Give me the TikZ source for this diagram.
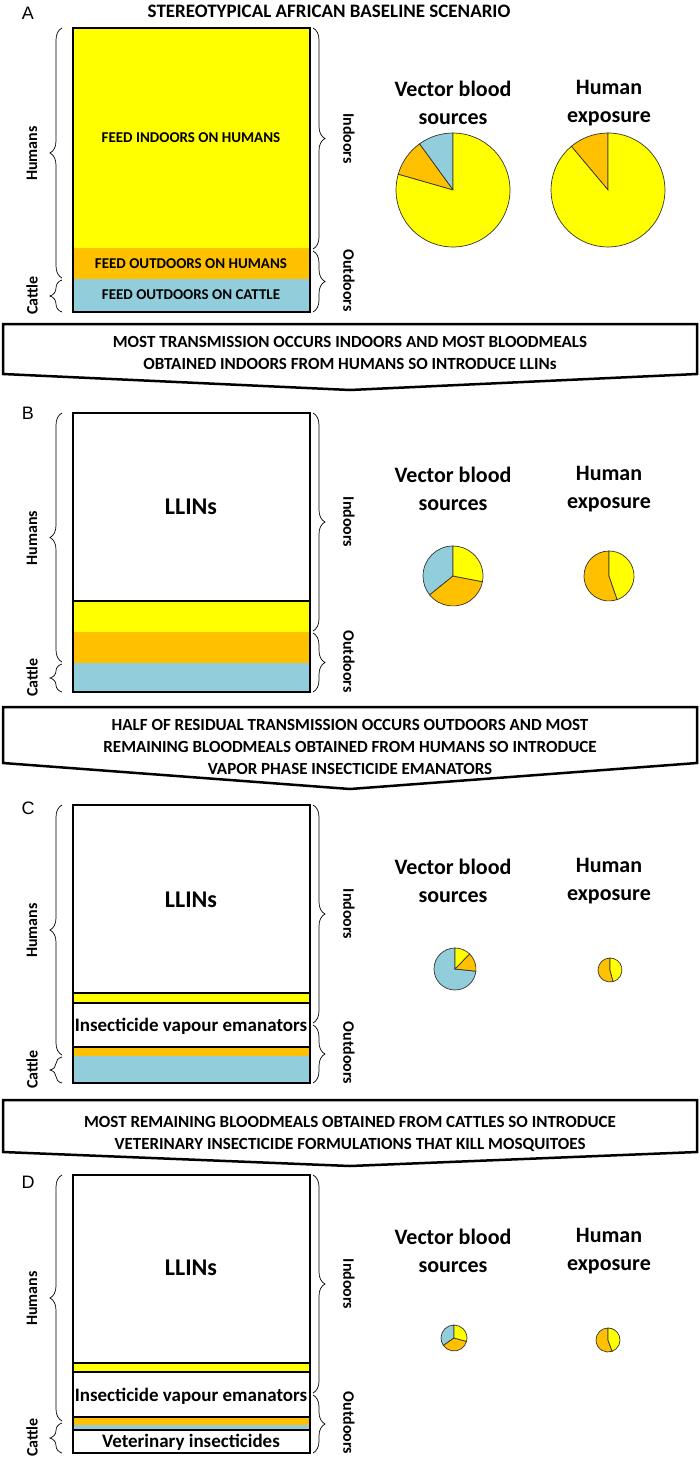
\documentclass[tikz,border=0pt]{standalone}
\usepackage{fontspec}
\setmainfont{Carlito}
\newfontfamily\panelfont{Liberation Sans}
\usetikzlibrary{decorations.pathreplacing}

\definecolor{humyellow}{HTML}{FFFF00}
\definecolor{humorange}{HTML}{FFC000}
\definecolor{catblue}{HTML}{92CDDC}

\tikzset{
  boxline/.style={line width=2.5bp},
  sepline/.style={line width=2.2bp},
  sidebrace/.style={decorate,decoration={brace,amplitude=12bp},line width=0.7bp},
  sidetext/.style={font=\fontsize{16bp}{18bp}\selectfont\bfseries},
  feedtext/.style={font=\fontsize{15bp}{17bp}\selectfont\bfseries},
  usetext/.style={font=\fontsize{19bp}{21bp}\selectfont\bfseries},
  nettext/.style={font=\fontsize{24bp}{26bp}\selectfont\bfseries},
  pietitle/.style={font=\fontsize{22bp}{27.5bp}\selectfont\bfseries,align=center},
  steptext/.style={font=\fontsize{17bp}{22bp}\selectfont\bfseries,align=center},
  panel/.style={font=\fontsize{18bp}{20bp}\selectfont\panelfont},
  slice/.style={draw=black!80,line width=0.7bp},
}

\begin{document}
\begin{tikzpicture}[x=1bp,y=-1bp]
        \fill[white] (0,0) rectangle (700,1461);
        \useasboundingbox (0,0) rectangle (700,1461);
        % Panel letters, title
        \node[panel] (labA) at (28,13) {A};
        \node[panel] (labB) at (28,413) {B};
        \node[panel] (labC) at (28,808) {C};
        \node[panel] (labD) at (28,1182) {D};
        \node[font=\fontsize{19bp}{21bp}\selectfont\bfseries] (title) at (329,11)
        {STEREOTYPICAL AFRICAN BASELINE SCENARIO};
        % Panel A bar
        \fill[humyellow] (73,28) rectangle (310,248);
        \fill[humorange] (73,248) rectangle (310,279);
        \fill[catblue] (73,279) rectangle (310,312);
        \draw[boxline] (73,28) rectangle (310,312);
        \node[feedtext] (inhumA) at (191,138) {FEED INDOORS ON HUMANS};
        \node[feedtext] (outhumA) at (191,264) {FEED OUTDOORS ON HUMANS};
        \node[feedtext] (outcatA) at (191,295) {FEED OUTDOORS ON CATTLE};
        % Panel B bar
        \fill[humyellow] (73,601) rectangle (310,632);
        \fill[humorange] (73,632) rectangle (310,663);
        \fill[catblue] (73,663) rectangle (310,692);
        \draw[sepline] (73,601) -- (310,601);
        \draw[boxline] (73,413) rectangle (310,692);
        \node[nettext] (netB) at (191,507) {LLINs};
        % Panel C bar
        \fill[humyellow] (73,993) rectangle (310,1003);
        \fill[humorange] (73,1047) rectangle (310,1056);
        \fill[catblue] (73,1056) rectangle (310,1083);
        \draw[sepline] (73,993) -- (310,993) (73,1003) -- (310,1003) (73,1047) -- (310,1047);
        \draw[boxline] (73,805) rectangle (310,1083);
        \node[nettext] (netC) at (191,900) {LLINs};
        \node[usetext] (vapC) at (191,1026) {Insecticide vapour emanators};
        % Panel D bar
        \fill[humyellow] (73,1363) rectangle (310,1372);
        \fill[humorange] (73,1417) rectangle (310,1425);
        \fill[catblue] (73,1425) rectangle (310,1430);
        \draw[sepline] (73,1363) -- (310,1363) (73,1372) -- (310,1372)
        (73,1417) -- (310,1417) (73,1430) -- (310,1430);
        \draw[boxline] (73,1175) rectangle (310,1453);
        \node[nettext] (netD) at (191,1268) {LLINs};
        \node[usetext] (vapD) at (191,1396) {Insecticide vapour emanators};
        \node[usetext] (vetD) at (191,1442) {Veterinary insecticides};
        % Braces and side labels
        \foreach \n/\t/\hc/\io/\b in {A/28/279/249/312, B/413/663/631/692,
                C/805/1056/1023/1083, D/1175/1422/1393/1453} {
          \draw[sidebrace] (62,\hc-1) -- (62,\t);
          \draw[sidebrace] (62,\b) -- (62,\hc+1);
          \draw[sidebrace] (313,\t) -- (313,\io);
          \draw[sidebrace] (313,\io+2) -- (313,\b);
          \node[sidetext,rotate=90] (hum\n) at (32,{(\t+\hc)/2}) {Humans};
          \node[sidetext,rotate=90] (cat\n) at (32,{(\hc+\b)/2}) {Cattle};
          \node[sidetext,rotate=-90] (in\n) at (349,{(\t+\io)/2}) {Indoors};
          \node[sidetext,rotate=-90] (out\n) at (349,{(\io+\b)/2}) {Outdoors};
        }
        % Pie titles
        \foreach \n/\y in {A/103, B/489, C/881, D/1251} {
          \node[pietitle] (vec\n) at (453,\y) {Vector blood\\sources};
          \node[pietitle] (exp\n) at (609,\y) {Human\\exposure};
        }
        % Pies
        \coordinate (pieA1) at (453,190);
        \coordinate (pieA2) at (608,190);
        \coordinate (pieB1) at (453,576);
        \coordinate (pieB2) at (609,576);
        \coordinate (pieC1) at (455,969);
        \coordinate (pieC2) at (610,970);
        \coordinate (pieD1) at (454,1338);
        \coordinate (pieD2) at (608,1340);
        \foreach \p/\r/\a/\e/\c in {
                A1/57/90/126/catblue, A1/57/126/164/humorange, A1/57/164/450/humyellow,
                A2/57/90/130/humorange, A2/57/130/450/humyellow,
                B1/30/90/219/catblue, B1/30/219/349/humorange, B1/30/349/450/humyellow,
                B2/25/90/289/humorange, B2/25/289/450/humyellow,
                C1/21/90/354/catblue, C1/21/354/406/humorange, C1/21/406/450/humyellow,
                C2/12/90/285/humorange, C2/12/285/450/humyellow,
                D1/13/90/215/catblue, D1/13/215/345/humorange, D1/13/345/450/humyellow,
                D2/12/90/290/humorange, D2/12/290/450/humyellow}
          \filldraw[slice,fill=\c] (pie\p) -- ++(\a:\r bp)
          arc[start angle=\a,end angle=\e,radius=\r bp] -- cycle;
        % Step arrows
        \draw[boxline] (3,324) -- (697,324) -- (697,374) -- (350,390) -- (3,374) -- cycle;
        \node[steptext] (step1) at (350,353)
        {MOST TRANSMISSION OCCURS INDOORS AND MOST BLOODMEALS\\
         OBTAINED INDOORS FROM HUMANS SO INTRODUCE LLINs};
        \draw[boxline] (3,707) -- (697,707) -- (697,763) -- (350,789) -- (3,763) -- cycle;
        \node[steptext] (step2) at (350,747)
        {HALF OF RESIDUAL TRANSMISSION OCCURS OUTDOORS AND MOST\\
         REMAINING BLOODMEALS OBTAINED FROM HUMANS SO INTRODUCE\\
         VAPOR PHASE INSECTICIDE EMANATORS};
        \draw[boxline] (3,1100) -- (697,1100) -- (697,1152) -- (350,1166) -- (3,1152) -- cycle;
        \node[steptext] (step3) at (350,1134)
        {MOST REMAINING BLOODMEALS OBTAINED FROM CATTLES SO INTRODUCE\\
         VETERINARY INSECTICIDE FORMULATIONS THAT KILL MOSQUITOES};
      \end{tikzpicture}
\end{document}
